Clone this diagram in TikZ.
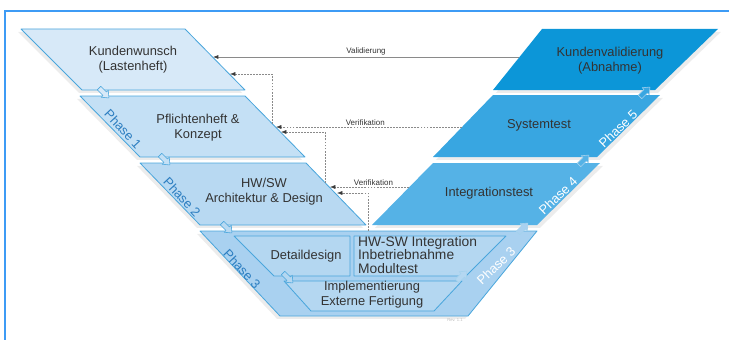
\documentclass[tikz,border=0pt]{standalone}
\usepackage{fontspec}
\setmainfont{Liberation Sans}
\usepackage{tikz}
\usetikzlibrary{arrows.meta, shadows}

\definecolor{framecol}{HTML}{3D9BF5}
\definecolor{edgecol}{HTML}{4AA6DC}
\definecolor{lvone}{HTML}{D7E9F8}
\definecolor{lvtwo}{HTML}{C4E0F5}
\definecolor{lvthree}{HTML}{B8D9F2}
\definecolor{lvfour}{HTML}{A9D1F0}
\definecolor{lvinner}{HTML}{B4D7F1}
\definecolor{rvone}{HTML}{0C96D8}
\definecolor{rvtwo}{HTML}{38A6E1}
\definecolor{rvthree}{HTML}{55B2E6}
\definecolor{txtcol}{HTML}{333333}
\definecolor{phasecol}{HTML}{2B7DC0}
\definecolor{conncol}{HTML}{8A8A8A}
\definecolor{arrowcol}{HTML}{3A3A3A}

\begin{document}
\begin{tikzpicture}[x=0.03cm, y=-0.03cm,
  box/.style={draw=edgecol, line width=0.7pt, line join=round},
  lshade/.style={drop shadow={shadow xshift=-2.5pt, shadow yshift=-2.5pt, opacity=0.15}},
  rshade/.style={drop shadow={shadow xshift=2.5pt, shadow yshift=-2.5pt, opacity=0.15}},
  boxtext/.style={text=txtcol, font=\fontsize{11}{12.8}\selectfont, align=center},
  lphase/.style={text=phasecol, font=\fontsize{11}{12}\selectfont, rotate=-47},
  rphase/.style={text=white, font=\fontsize{11}{12}\selectfont, rotate=44},
  notch/.style={draw=edgecol, line width=0.5pt, line join=round},
  conn/.style={draw=conncol, line width=0.6pt, -{Latex[length=4.5pt, width=3.4pt, color=arrowcol]}},
  dconn/.style={conn, line width=0.45pt, dash pattern=on 1.6pt off 1pt},
  small/.style={text=txtcol, font=\fontsize{6.8}{8}\selectfont, inner sep=1pt}]
\useasboundingbox (0,0) rectangle (729,340);
\draw[framecol, line width=2.5pt] (5,345) -- (5,11) -- (735,11);

\filldraw[box, lshade, fill=lvone] (21,29) -- (185,29) -- (245,90) -- (82,90) -- cycle;
\filldraw[box, lshade, fill=lvtwo] (80,96) -- (245,96) -- (305,157) -- (140,157) -- cycle;
\filldraw[box, lshade, fill=lvthree] (140,163) -- (306,163) -- (366,225) -- (200,225) -- cycle;
\filldraw[box, lshade, fill=lvfour] (200,231) -- (537,231) -- (468,316) -- (280,316) -- cycle;
\filldraw[box, fill=lvinner] (234,236) -- (350,236) -- (350,276) -- (274,276) -- cycle;
\filldraw[box, fill=lvinner] (354,236) -- (506,236) -- (466,276) -- (354,276) -- cycle;
\filldraw[box, fill=lvinner] (284,281) -- (462,281) -- (434,311) -- (311,311) -- cycle;

\fill[rshade, rvone] (542,29) -- (718,29) -- (655,90) -- (493,90) -- cycle;
\fill[rshade, rvtwo] (493,95) -- (660,95) -- (597,157) -- (433,157) -- cycle;
\fill[rshade, rvthree] (433,163) -- (600,163) -- (537,225) -- (372,225) -- cycle;

\foreach \px/\py/\col in {104/93/lvone, 165/160/lvtwo, 227/228/lvthree, 288/278/lvinner}
  \filldraw[notch, fill=\col, shift={(\px,\py)}, rotate=-45]
    (-7,-2.5) -- (1,-2.5) -- (1,-5) -- (7,0) -- (1,5) -- (1,2.5) -- (-7,2.5) -- cycle;
\foreach \px/\py/\col in {462/276/lvinner, 523/228/lvfour, 584/160/rvthree, 645/92/rvtwo}
  \filldraw[notch, draw=white!50!edgecol, fill=\col, shift={(\px,\py)}, rotate=45]
    (-7,-2.5) -- (1,-2.5) -- (1,-5) -- (7,0) -- (1,5) -- (1,2.5) -- (-7,2.5) -- cycle;

\node[boxtext] (kw) at (133,60) {Kundenwunsch\\(Lastenheft)};
\node[boxtext] (pf) at (198,128) {Pflichtenheft \&\\Konzept};
\node[boxtext] (hw) at (264,192) {HW/SW\\Architektur \& Design};
\node[boxtext] (dd) at (306,256) {Detaildesign};
\node[boxtext, align=left, anchor=west, font=\fontsize{11.8}{11.6}\selectfont] (hwsw) at (354,255) {HW-SW Integration\\Inbetriebnahme\\Modultest};
\node[boxtext] (im) at (372,295) {Implementierung\\Externe Fertigung};
\node[boxtext] (kv) at (610,61) {Kundenvalidierung\\(Abnahme)};
\node[boxtext] (st) at (539,125) {Systemtest};
\node[boxtext] (it) at (489,193) {Integrationstest};

\node[lphase] (ph1) at (123,129) {Phase 1};
\node[lphase] (ph2) at (182,197) {Phase 2};
\node[lphase] (ph3l) at (242,269) {Phase 3};
\node[rphase] (ph5) at (618,129) {Phase 5};
\node[rphase] (ph4) at (558,196) {Phase 4};
\node[rphase] (ph3r) at (496,266) {Phase 3};

\coordinate (valr) at (519,57);
\coordinate (vall) at (213,57);
\coordinate (vfar) at (462,127);
\coordinate (vfal) at (276,127);
\coordinate (vfbr) at (409,187);
\coordinate (vfbl) at (330,187);
\coordinate (fbas) at (272,124);
\coordinate (fbae) at (230,74);
\coordinate (fbbs) at (325,183);
\coordinate (fbbe) at (281,132);
\coordinate (fbcs) at (368,231);
\coordinate (fbce) at (337,193);

\draw[conn] (valr) -- (vall) node[small, midway, above] (val) {Validierung};
\draw[dconn] (vfar) -- (vfal) node[small, pos=0.52, above] (vfa) {Verifikation};
\draw[dconn] (vfbr) -- (vfbl) node[small, pos=0.45, above] (vfb) {Verifikation};
\draw[dconn] (fbas) |- (fbae);
\draw[dconn] (fbbs) |- (fbbe);
\draw[dconn] (fbcs) |- (fbce);

\node[text=gray!55, font=\fontsize{3.5}{4}\selectfont] (rev) at (455,320) {Rev. 1.1};
\end{tikzpicture}
\end{document}
